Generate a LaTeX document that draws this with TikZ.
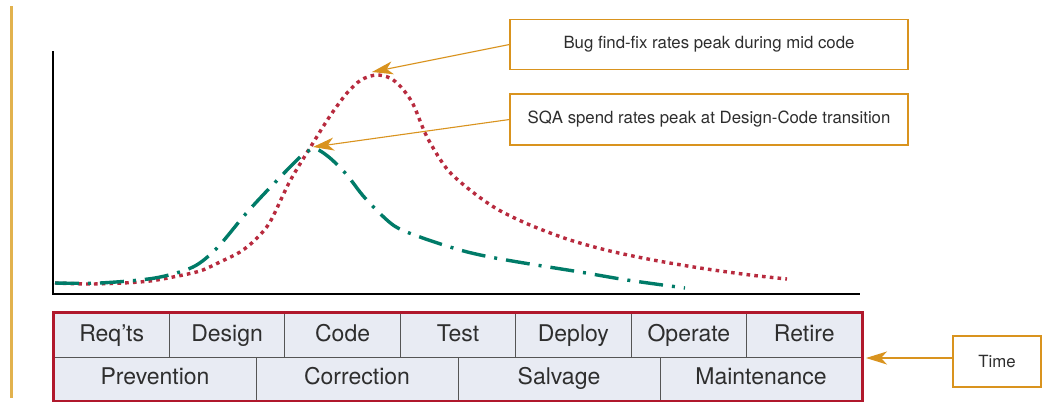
\documentclass[tikz,border=0pt]{standalone}
\usepackage{fontspec}
\setmainfont{TeX Gyre Heros}
\usetikzlibrary{arrows.meta}
\definecolor{gold}{HTML}{D9931E}
\definecolor{leftgold}{HTML}{E2B24E}
\definecolor{bugred}{HTML}{B82A3E}
\definecolor{sqagreen}{HTML}{007B68}
\definecolor{cellfill}{HTML}{E8EBF3}
\definecolor{tabred}{HTML}{B0182C}
\definecolor{txt}{HTML}{2E2E2E}
\definecolor{cellline}{HTML}{555555}
\begin{document}
\begin{tikzpicture}[x=1pt,y=-1pt,
  cell/.style={draw=cellline, line width=0.9pt, fill=cellfill, inner sep=0pt, text=txt,
     font=\fontsize{23}{25}\selectfont, text height=16.5pt, text depth=4.5pt},
  topcell/.style={cell, minimum width=115.43pt, minimum height=44pt},
  botcell/.style={cell, minimum width=202pt, minimum height=43.5pt},
  note/.style={draw=gold, line width=1.1pt, fill=white, inner sep=0pt, text=txt,
     font=\fontsize{16.8}{18}\selectfont},
  callout/.style={draw=gold, line width=1.1pt, -{Stealth[length=21pt,width=13pt,inset=6pt]}},
  bugline/.style={draw=bugred, line width=3.4pt, dash pattern=on 3.6pt off 4.2pt},
  sqaline/.style={draw=sqagreen, line width=3.4pt, dash pattern=on 24pt off 9pt on 3pt off 9pt}
]
\useasboundingbox (0,0) rectangle (1042,402);
\fill[white] (0,0) rectangle (1042,402);

% left rule
\draw[leftgold, line width=3pt] (11,6) -- (11,398);

% axes
\coordinate (ytop) at (53,51);
\coordinate (orig) at (53,294);
\coordinate (xend) at (860,294);
\draw[black, line width=2.2pt] (ytop) -- (orig) -- (xend);

% curves
\draw[bugline] plot[smooth, tension=0.5] coordinates {
 (55,283) (90,284) (123,283) (150,281) (173,277) (200,271) (220,262) (240,252)
 (255,240) (270,222) (290,181) (313,143) (330,116) (347,93) (361,80) (376,75)
 (390,78) (401,87) (413,104) (427,137) (447,169) (470,190) (497,209) (530,225)
 (570,240) (610,251) (653,260) (700,268) (750,275) (787,279)};
\draw[sqaline] plot[smooth, tension=0.5] coordinates {
 (55,283) (100,283) (155,278) (193,267) (217,248) (243,217) (263,195) (292,165)
 (305,153) (316,149) (330,158) (347,175) (365,198) (393,225) (420,237) (460,250)
 (490,257) (530,264) (580,272) (627,280) (685,288)};

\coordinate (bugpeak) at (372,72);
\coordinate (sqapeak) at (313,147);

% table
\node[topcell] (t1) at (111.7,335) {Req’ts};
\node[topcell] (t2) at (227.1,335) {Design};
\node[topcell] (t3) at (342.6,335) {Code};
\node[topcell] (t4) at (458.0,335) {Test};
\node[topcell] (t5) at (573.4,335) {Deploy};
\node[topcell] (t6) at (688.9,335) {Operate};
\node[topcell] (t7) at (804.3,335) {Retire};
\node[botcell] (b1) at (155,378.75) {Prevention};
\node[botcell] (b2) at (357,378.75) {Correction};
\node[botcell] (b3) at (559,378.75) {Salvage};
\node[botcell] (b4) at (761,378.75) {Maintenance};
\draw[tabred, line width=2.6pt] (t1.north west) rectangle (b4.south east);

% notes
\node[note, minimum width=398pt, minimum height=50pt] (n1) at (709,44.5) {Bug find-fix rates peak during mid code};
\node[note, minimum width=398pt, minimum height=51pt] (n2) at (709,119.5) {SQA spend rates peak at Design-Code transition};
\node[note, minimum width=88pt, minimum height=51pt] (time) at (997,361.5) {Time};
\coordinate (timeend) at (866,358);

\draw[callout] (n1.west) -- (bugpeak);
\draw[callout] (n2.west) -- (sqapeak);
\draw[callout] (time.west |- timeend) -- (timeend);
\end{tikzpicture}
\end{document}
